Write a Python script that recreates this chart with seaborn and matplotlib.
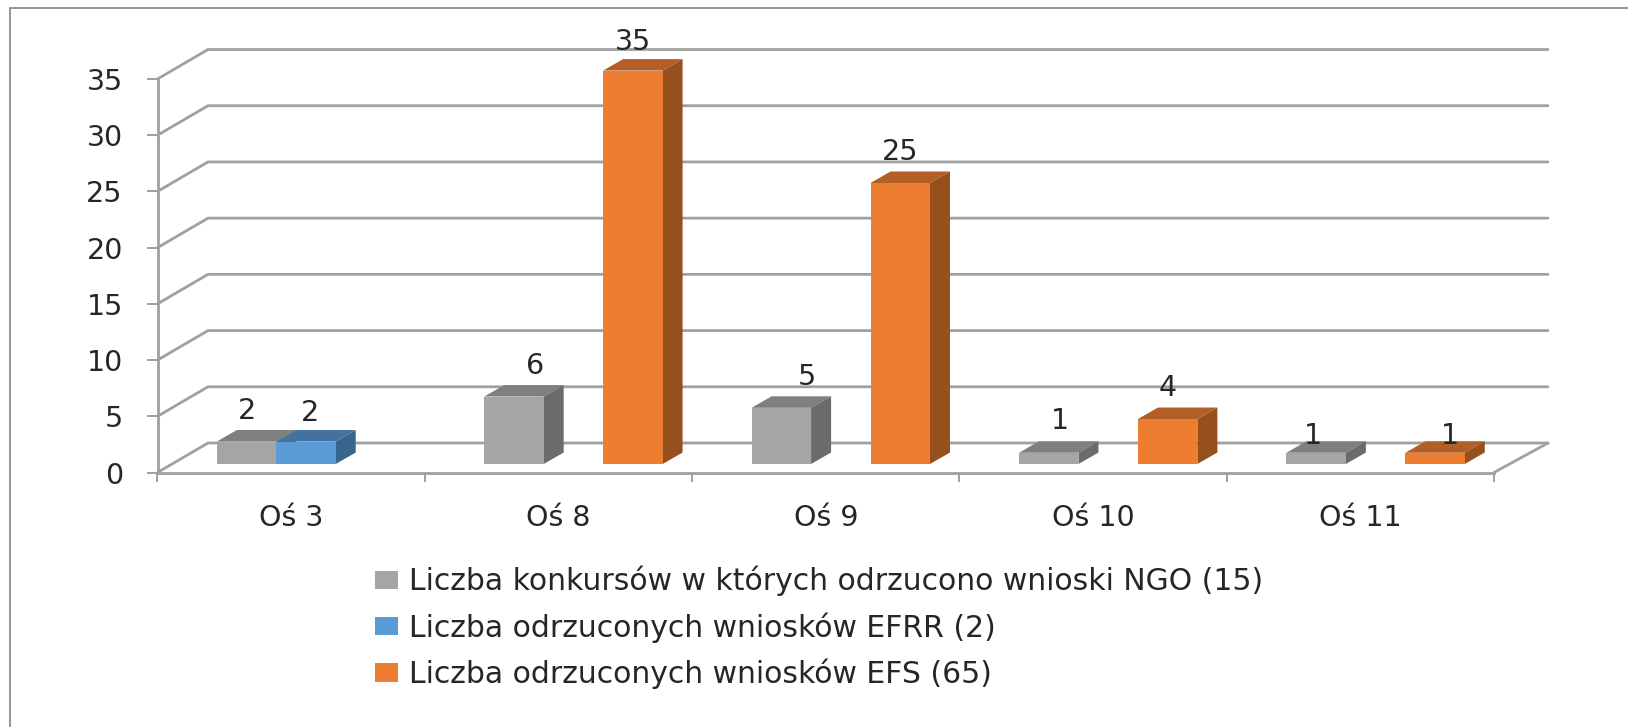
import pandas as pd
import matplotlib
matplotlib.use("Agg")
import matplotlib.pyplot as plt
from matplotlib.patches import Polygon
import seaborn as sns

categories = ["Oś 3", "Oś 8", "Oś 9", "Oś 10", "Oś 11"]
series_names = [
    "Liczba konkursów w których odrzucono wnioski NGO (15)",
    "Liczba odrzuconych wniosków EFRR (2)",
    "Liczba odrzuconych wniosków EFS (65)",
]
ngo = [2, 6, 5, 1, 1]
efrr = [2, None, None, None, None]
efs = [None, 35, 25, 4, 1]
y_ticks = [0, 5, 10, 15, 20, 25, 30, 35]

front_cols = ["#a5a5a5", "#5b9bd5", "#ed7d31"]
top_cols = ["#7f7f7f", "#44729f", "#b25e24"]
side_cols = ["#6b6b6b", "#39658c", "#96501e"]
grid_col = "#a0a0a0"
text_col = "#262626"
font_size = 20.5

W, H = 1628, 727
sns.set_theme(style="white")
plt.rcParams["font.family"] = ["DejaVu Sans"]

rows = []
for name, vals in zip(series_names, [ngo, efrr, efs]):
    for c, v in zip(categories, vals):
        if v is not None:
            rows.append({"cat": c, "series": name, "value": v})
df = pd.DataFrame(rows)

fig = plt.figure(figsize=(W / 100, H / 100), dpi=100, facecolor="white")


def px_axes(left, right, top, bottom):
    return fig.add_axes([left / W, 1 - bottom / H, (right - left) / W, (bottom - top) / H])


# wall: real value axis, with the back wall drawn by shifting each line
wall = px_axes(157.5, 1494, 79, 472.5)
wall.set_xlim(-0.5, 4.5)
wall.set_ylim(0, 35)
wall.patch.set_alpha(0)
unit_x = (1494 - 157.5) / 5
unit_y = (472.5 - 79) / 35
back_x = 50.5 / unit_x
back_y = 29.5 / unit_y
tail = 3.5 / unit_x
for v in y_ticks:
    wall.plot([-0.5, -0.5 + back_x, 4.5 + back_x + tail], [v, v + back_y, v + back_y],
              color=grid_col, lw=2, clip_on=False, zorder=1, solid_joinstyle="miter")
wall.plot([4.5, 4.5 + back_x + tail], [0, back_y], color=grid_col, lw=2, clip_on=False, zorder=1)
for s in ["top", "right"]:
    wall.spines[s].set_visible(False)
for s in ["left", "bottom"]:
    wall.spines[s].set_color(grid_col)
    wall.spines[s].set_linewidth(2)
wall.set_yticks(y_ticks)
wall.set_xticks([i - 0.5 for i in range(6)])
wall.set_xticklabels([])
wall.set_xticks(range(5), categories, minor=True)
wall.tick_params(axis="y", length=8, width=1.4, color=grid_col, labelsize=font_size, labelcolor=text_col, pad=17, left=True)
wall.tick_params(axis="x", which="major", length=6.5, width=1.4, color=grid_col, bottom=True)
wall.tick_params(axis="x", which="minor", length=0, labelsize=font_size, labelcolor=text_col, pad=23)

# bars stand a little in from the front edge of the floor
ax = px_axes(172.3, 1509.3, 70.6, 464)
ax.patch.set_alpha(0)
sns.barplot(data=df, x="cat", y="value", hue="series", order=categories, hue_order=series_names,
            palette=front_cols, width=0.667, gap=0, saturation=1, linewidth=0, zorder=3, ax=ax)
ax.set_xlim(-0.5, 4.5)
ax.set_ylim(0, 35)
ax.axis("off")

depth_x = 20 / unit_x
depth_y = 11.5 / unit_y
for cont, tc, sc in zip(ax.containers, top_cols, side_cols):
    for bar in cont:
        h = bar.get_height()
        if not h > 0:
            continue
        x0, x1 = bar.get_x(), bar.get_x() + bar.get_width()
        ax.add_patch(Polygon([(x0, h), (x1, h), (x1 + depth_x, h + depth_y), (x0 + depth_x, h + depth_y)],
                             facecolor=tc, edgecolor="none", zorder=2, clip_on=False))
        ax.add_patch(Polygon([(x1, 0), (x1 + depth_x, depth_y), (x1 + depth_x, h + depth_y), (x1, h)],
                             facecolor=sc, edgecolor="none", zorder=2, clip_on=False))

# data labels were moved by hand in the original, (cat, series): pixel nudge
nudges = {(0, 1): (4, 29), (1, 0): (21, 31), (2, 0): (26, 31), (3, 0): (11, 32),
          (4, 0): (-3, 17), (4, 2): (15, 17), (1, 2): (0, 29)}
for si, cont in enumerate(ax.containers):
    for bar in cont:
        h = bar.get_height()
        if not h > 0:
            continue
        cx = bar.get_x() + bar.get_width() / 2
        ci = int(round(cx))
        dx, dy = nudges.get((ci, si), (0, 31))
        ax.annotate(f"{h:.0f}", (cx, h), xytext=(dx, dy), textcoords="offset pixels", ha="center",
                    va="center", fontsize=font_size, color=text_col, annotation_clip=False, zorder=5)

handles, labels = ax.get_legend_handles_labels()
if ax.get_legend() is not None:
    ax.get_legend().remove()
fig.legend(handles, labels, loc="upper left", bbox_to_anchor=(375 / W, 1 - 566 / H), frameon=False,
           fontsize=21.5, labelcolor=text_col, handlelength=0.77, handleheight=0.57, handletextpad=0.37,
           labelspacing=0.53, borderpad=0, borderaxespad=0)

# the outer frame only shows on the left and the top
fig.add_artist(plt.Line2D([9.5 / W, 9.5 / W, 1], [0, 1 - 7.5 / H, 1 - 7.5 / H], transform=fig.transFigure,
                          color="#8c8c8c", lw=1.3, solid_joinstyle="miter"))
fig.savefig("out.png", dpi=100)
